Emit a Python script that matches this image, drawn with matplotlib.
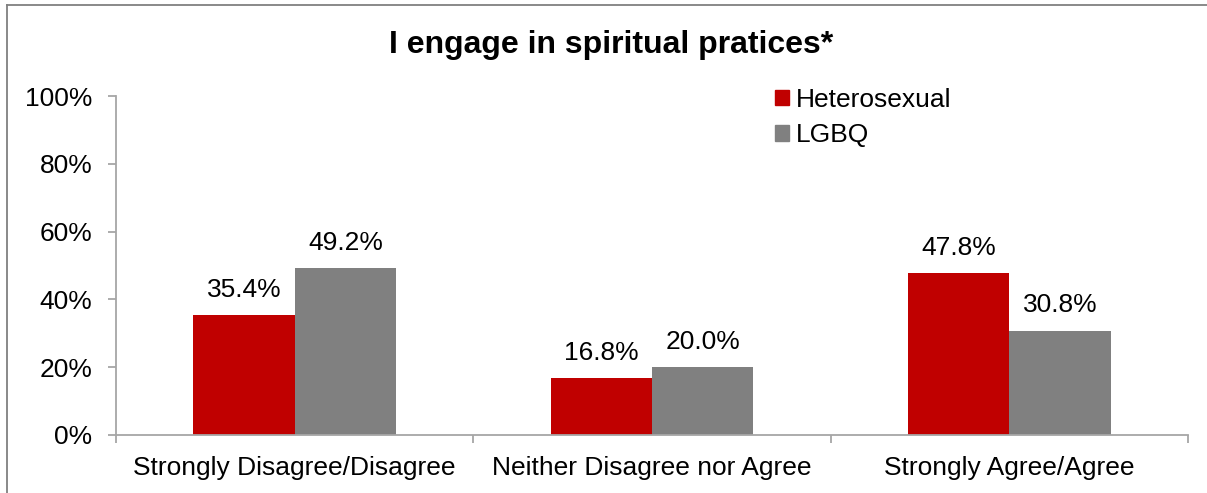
import matplotlib
matplotlib.use("Agg")
import matplotlib.pyplot as plt
import numpy as np
from matplotlib.lines import Line2D
from matplotlib.patches import Patch

categories = ["Strongly Disagree/Disagree", "Neither Disagree nor Agree", "Strongly Agree/Agree"]
series_names = ["Heterosexual", "LGBQ"]
hetero = [35.4, 16.8, 47.8]
lgbq = [49.2, 20.0, 30.8]
y_ticks = [0, 20, 40, 60, 80, 100]
title = "I engage in spiritual pratices*"

colors = ["#C00000", "#808080"]
plt.rcParams['font.family'] = ['Liberation Sans', 'DejaVu Sans']

W, H = 1207, 493
fig = plt.figure(figsize=(W / 100, H / 100), dpi=100)
ax = fig.add_axes([116 / W, 1 - 435 / H, (1188 - 116) / W, (435 - 96) / H])

x = np.arange(len(categories))
bw = 0.284
b1 = ax.bar(x - bw / 2, hetero, bw, color=colors[0], label=series_names[0])
b2 = ax.bar(x + bw / 2, lgbq, bw, color=colors[1], label=series_names[1])

for bars, vals in ((b1, hetero), (b2, lgbq)):
    for b, v in zip(bars, vals):
        ax.annotate(f"{v:.1f}%", (b.get_x() + b.get_width() / 2, v),
                    xytext=(0, 9.5), textcoords="offset points",
                    ha="center", va="bottom", fontsize=19, color="black")

ax.set_xlim(-0.5, len(categories) - 0.5)
ax.set_ylim(0, 100)
ax.set_yticks(y_ticks)
ax.set_yticklabels([f"{t}%" for t in y_ticks])
ax.set_xticks(x)
ax.set_xticklabels(categories)
ax.set_xticks(np.arange(len(categories) + 1) - 0.5, minor=True)

spine_c = "#A6A6A6"
for s in ["top", "right"]:
    ax.spines[s].set_visible(False)
for s in ["left", "bottom"]:
    ax.spines[s].set_color(spine_c)
    ax.spines[s].set_linewidth(1.3)
ax.tick_params(axis="y", direction="out", length=6, width=1.3, color=spine_c,
               labelsize=19, pad=11)
ax.tick_params(axis="x", which="major", length=0, labelsize=19, pad=15)
ax.tick_params(axis="x", which="minor", direction="out", length=6, width=1.3, color=spine_c)

fig.text(611 / W, 1 - 45 / H, title, ha="center", va="center", fontsize=23, fontweight="bold")

handles = [Patch(color=colors[0]), Patch(color=colors[1])]
fig.legend(handles, series_names, loc="upper left", bbox_to_anchor=(775 / W, 1 - 88 / H),
           frameon=False, fontsize=19, handlelength=0.53, handleheight=0.53,
           handletextpad=0.25, labelspacing=0.42, borderpad=0, borderaxespad=0)

# outer chart border (partially cropped)
fig.add_artist(Line2D([7 / W, 7 / W], [0, 1 - 5 / H], transform=fig.transFigure, color="#808080", lw=1.3))
fig.add_artist(Line2D([7 / W, 1], [1 - 5 / H, 1 - 5 / H], transform=fig.transFigure, color="#808080", lw=1.3))

fig.savefig("out.png", dpi=100)
